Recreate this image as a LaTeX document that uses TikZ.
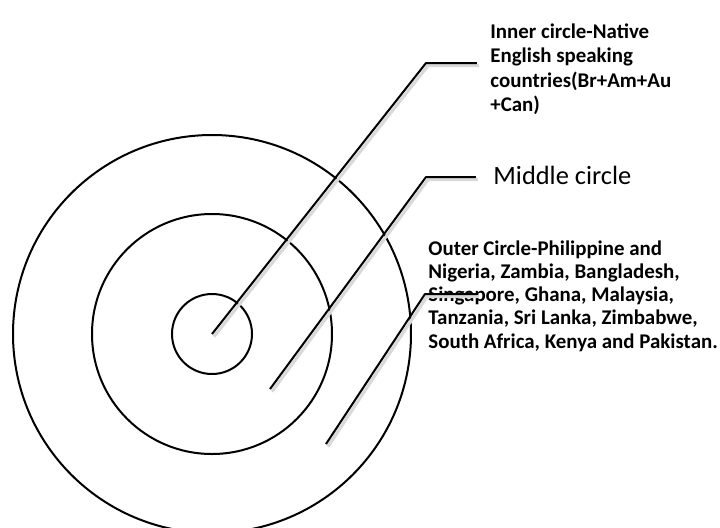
\documentclass[tikz,border=0pt]{standalone}
\usepackage{fontspec}
\newfontfamily\calfont{Carlito}
\usetikzlibrary{positioning}

\begin{document}
\begin{tikzpicture}[x=0.5pt, y=-0.5pt,
    ring/.style={draw, circle, line width=1pt, inner sep=0pt},
    leader/.style={line width=1pt, line join=round,
        preaction={draw, black!15, line width=1.6pt, transform canvas={shift={(1pt,-1.3pt)}}}},
    circletext/.style={align=left, inner sep=0pt, anchor=north west}]
    \useasboundingbox (0,0) rectangle (720,527);

    % common centre of the rings
    \coordinate (O) at (212,334);

    % inner, middle and outer circle
    \node[ring, minimum size=40pt] (inner) at (O) {};
    \node[ring, minimum size=120pt] (middle) at (O) {};
    \node[ring, minimum size=199pt] (outer) at (O) {};

    % label texts
    \node[circletext, font=\calfont\bfseries\fontsize{10.45}{12.25}\selectfont] (innerlbl) at (490,23)
        {Inner circle-Native\\English speaking\\countries(Br+Am+Au\\+Can)};
    \node[circletext, font=\calfont\fontsize{13.2}{15}\selectfont] (middlelbl) at (493,166) {Middle circle};
    \node[circletext, font=\calfont\bfseries\fontsize{10.45}{11.65}\selectfont] (outerlbl) at (428,240)
        {Outer Circle-Philippine and\\Nigeria, Zambia, Bangladesh,\\Singapore, Ghana, Malaysia,\\Tanzania, Sri Lanka, Zimbabwe,\\South Africa, Kenya and Pakistan.};

    % leader lines: start point, bend, free end
    \coordinate (s1) at (O);
    \coordinate (k1) at (426,63);
    \coordinate (e1) at (477,63);
    \coordinate (s2) at (270,389);
    \coordinate (k2) at (426,177);
    \coordinate (e2) at (476,177);
    \coordinate (s3) at (326,444);
    \coordinate (k3) at (425,294);
    \coordinate (e3) at (477,294);
    \draw[leader] (s1) -- (k1) -- (e1);
    \draw[leader] (s2) -- (k2) -- (e2);
    \draw[leader] (s3) -- (k3) -- (e3);
\end{tikzpicture}
\end{document}
